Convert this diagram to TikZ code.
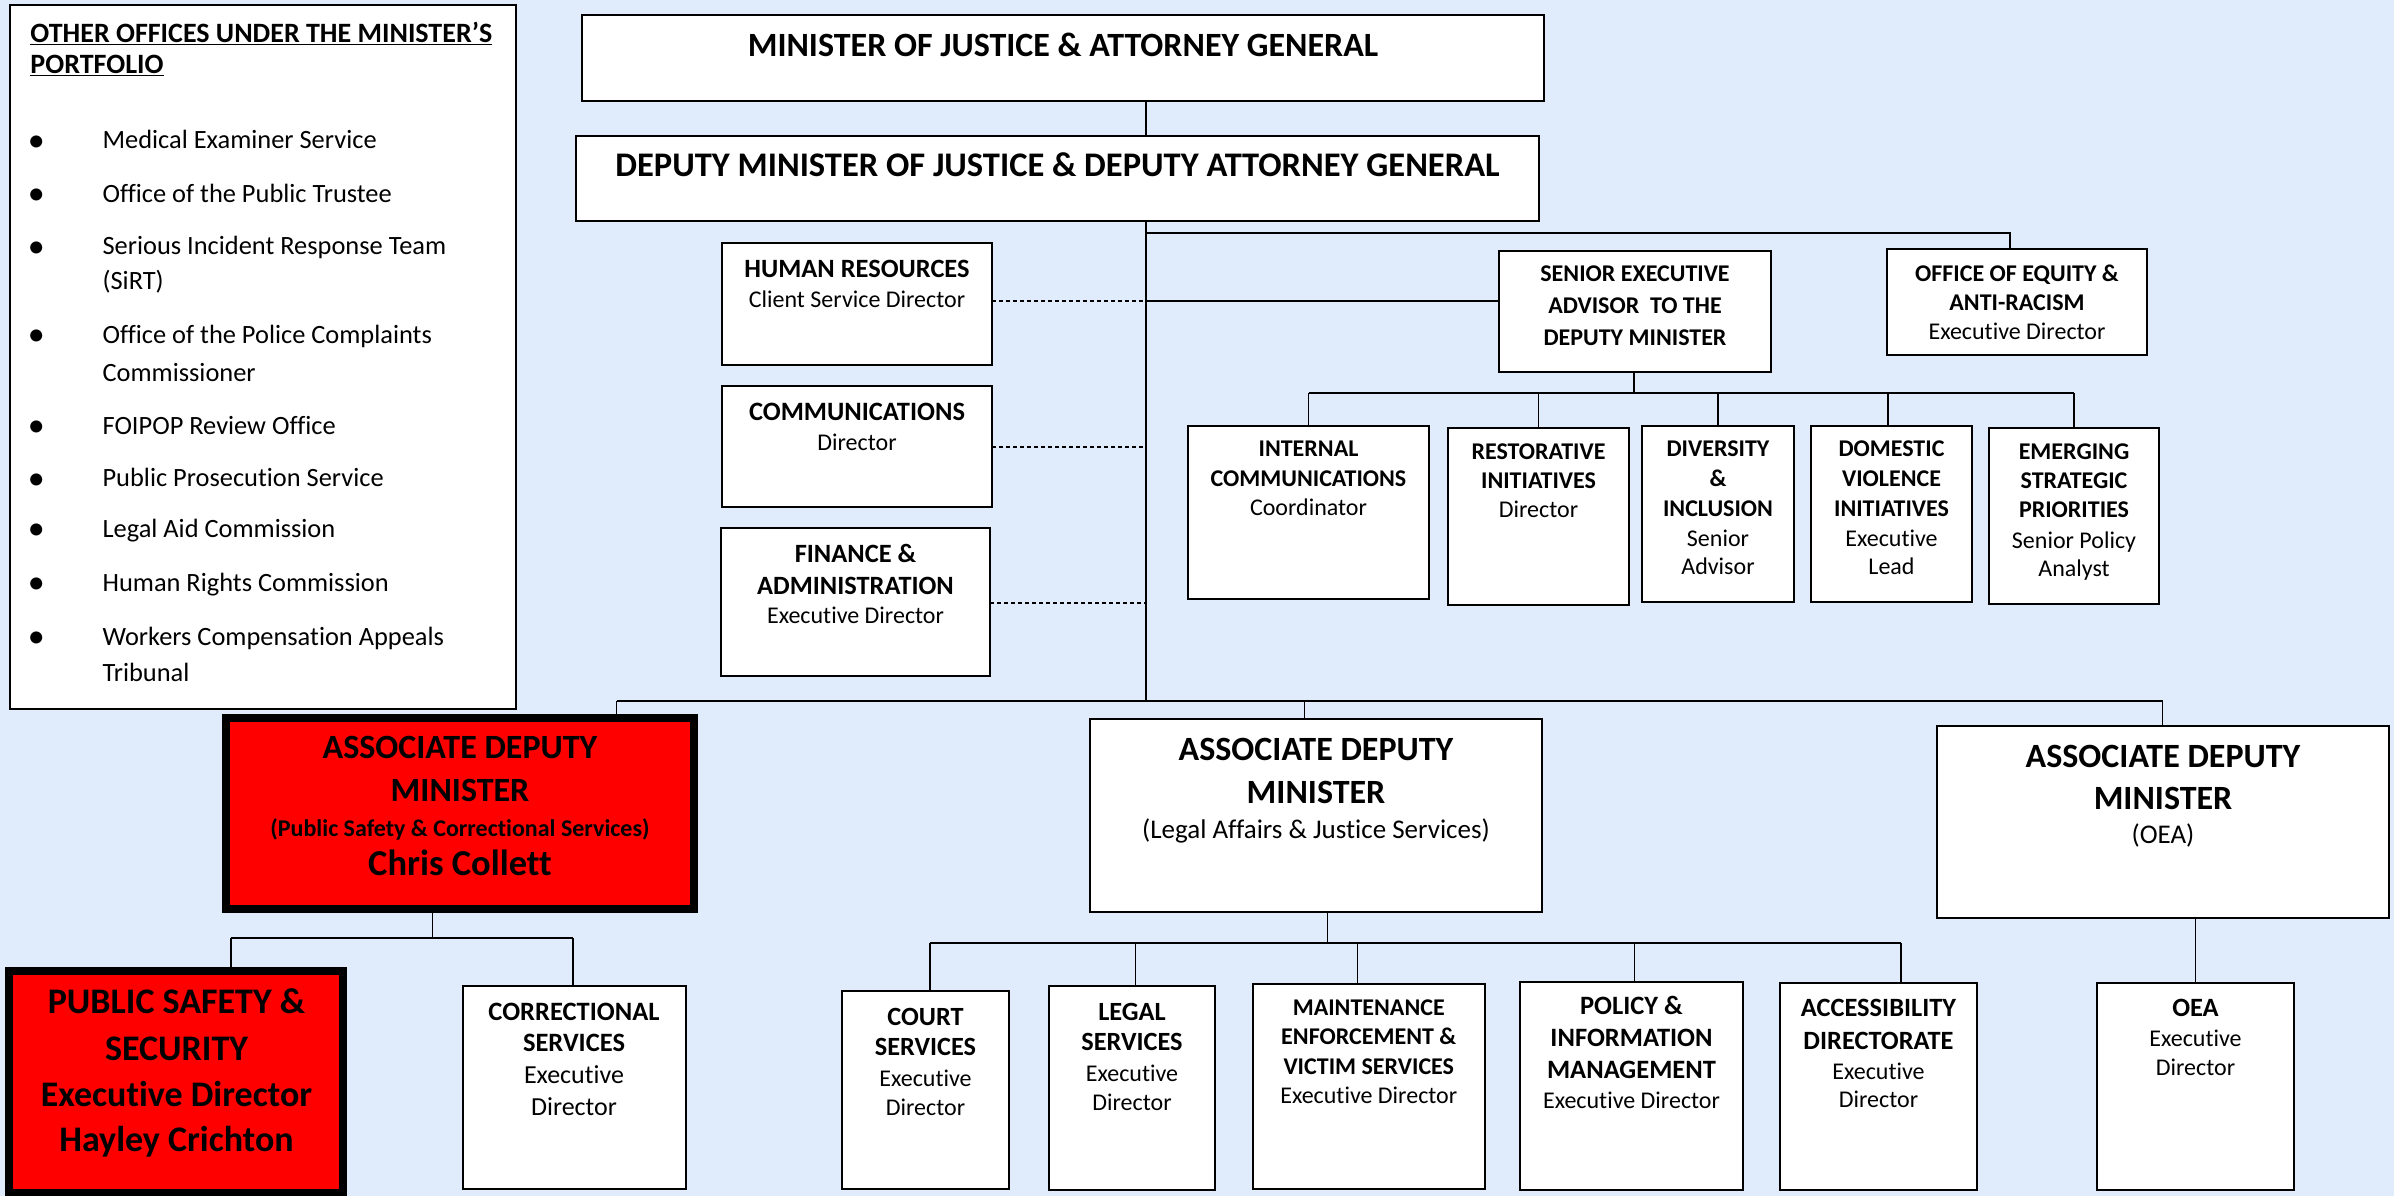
\documentclass[tikz,border=0pt]{standalone}
\usepackage{fontspec}
\setmainfont{Carlito}[Ligatures={NoCommon,NoContextual}]
\usetikzlibrary{calc}
\definecolor{bgblue}{RGB}{224,235,251}
\newcounter{tn}
\newcommand\fs[1]{\fontsize{#1}{#1}\selectfont}
\newcommand\tline[4][]{\stepcounter{tn}\node[anchor=base,inner sep=0pt,outer sep=0pt,#1] (tx\arabic{tn}) at (#2,#3) {#4};}
\newcommand\bx[6][box]{\node[#1,minimum width={(#5-#3)*1pt},minimum height={(#6-#4)*1pt}] (#2) at ({(#3+#5)/2},{(#4+#6)/2}) {};}
\tikzset{
  box/.style={rectangle,draw=black,line width=2pt,fill=white,inner sep=0pt,outer sep=0pt},
  redbox/.style={rectangle,draw=black,line width=7.5pt,fill=red,inner sep=0pt,outer sep=0pt},
  conn/.style={draw=black,line width=1.4pt},
  dsh/.style={draw=black,line width=1.4pt,dash pattern=on 4pt off 3pt},
  bf/.style={font={\fs{#1}\bfseries}},
  rg/.style={font={\fs{#1}}},
}
\begin{document}
\begin{tikzpicture}[x=1pt,y=-1pt]
\useasboundingbox (0,0) rectangle (2394,1196);
\fill[bgblue] (0,0) rectangle (2394,1196);

% ---------- boxes ----------
\bx{left}{10}{5}{516}{709}
\bx{min}{582}{15}{1544}{101}
\bx{dep}{576}{136}{1539}{221}
\bx{hr}{722}{243}{992}{365}
\bx{comm}{722}{386}{992}{507}
\bx{fin}{721}{528}{990}{676}
\bx{sea}{1499}{251}{1771}{372}
\bx{oear}{1887}{249}{2147}{355}
\bx{ic}{1188}{426}{1429}{599}
\bx{rest}{1448}{428}{1629}{605}
\bx{div}{1642}{426}{1794}{602}
\bx{dom}{1811}{426}{1972}{602}
\bx{emg}{1989}{428}{2159}{604}
\bx[redbox]{adm1}{226}{718}{694}{909}
\bx{adm2}{1090}{719}{1542}{912}
\bx{adm3}{1937}{726}{2389}{918}
\bx[redbox]{pss}{9}{971}{343}{1193}
\bx{corr}{463}{986}{685.5}{1189}
\bx{court}{842}{991}{1009}{1189}
\bx{legal}{1049}{986}{1215}{1190}
\bx{maint}{1253}{984}{1484.5}{1189}
\bx{policy}{1520}{982}{1743}{1190}
\bx{access}{1780}{983}{1977}{1190}
\bx{oea}{2097}{983}{2294}{1190}

% ---------- connectors ----------
\coordinate (mb) at (1146,701);
\coordinate (mt) at (1146,233);
\coordinate (oej) at (2010,233);
\coordinate (hrj) at (1146,301);
\coordinate (cj) at (1146,447);
\coordinate (fj) at (1146,603);
\draw[conn] (min.south -| mb) -- (dep.north -| mb);
\draw[conn] (dep.south -| mb) -- (mb);
\draw[conn] (mt) -- (oej) -- (oej |- oear.north);
\draw[dsh] (hr.east |- hrj) -- (hrj);
\draw[conn] (hrj) -- (sea.west |- hrj);
\draw[dsh] (comm.east |- cj) -- (cj);
\draw[dsh] (fin.east |- fj) -- (fj);

\coordinate (sb) at (1634,393);
\draw[conn] (sea.south -| sb) -- (sb);
\draw[conn] (ic.north |- sb) -- (emg.north |- sb);
\foreach \n/\x in {ic/1308.5,rest/1538.5,div/1718,dom/1888,emg/2074}{
  \coordinate (s\n) at (\x,393);
  \draw[conn] (s\n) -- (s\n |- \n.north);
}

\coordinate (a1) at (616.6,701);
\coordinate (a2) at (1304.7,701);
\coordinate (a3) at (2162.7,701);
\draw[conn] (a1) -- (a3);
\draw[conn] (a1) -- (a1 |- adm1.north);
\draw[conn] (a2) -- (a2 |- adm2.north);
\draw[conn] (a3) -- (a3 |- adm3.north);

\coordinate (p1) at (432.5,938);
\coordinate (p0) at (231,938);
\coordinate (p2) at (573,938);
\draw[conn] (adm1.south -| p1) -- (p1);
\draw[conn] (p0) -- (p2);
\draw[conn] (p0) -- (p0 |- pss.north);
\draw[conn] (p2) -- (p2 |- corr.north);

\coordinate (q1) at (1327.6,943);
\draw[conn] (adm2.south -| q1) -- (q1);
\draw[conn] (930,943) coordinate (q0) -- (1901,943) coordinate (q5);
\foreach \n/\x in {court/930,legal/1135.7,maint/1357.6,policy/1634.4,access/1901}{
  \coordinate (d\n) at (\x,943);
  \draw[conn] (d\n) -- (d\n |- \n.north);
}
\draw[conn] (adm3.south -| oea.north) -- (oea.north);

% redraw thick boxes borders on top of connectors
\bx[redbox]{adm1b}{226}{718}{694}{909}
\bx[redbox]{pssb}{9}{971}{343}{1193}

% ---------- left panel ----------
\tline[bf=28,anchor=base west]{30.5}{42.7}{\underline{OTHER OFFICES UNDER THE MINISTER’S}}
\tline[bf=28,anchor=base west]{30.5}{73.5}{\underline{PORTFOLIO}}
\foreach \y in {149,202,254.8,343.4,434,486.7,537,591,645}{
  \tline[rg=34]{36.4}{\y+2.5}{•}
}
\tline[rg=26.4,anchor=base west]{102.6}{149}{Medical Examiner Service}
\tline[rg=26.4,anchor=base west]{102.6}{202}{Office of the Public Trustee}
\tline[rg=26.4,anchor=base west]{102.6}{254.8}{Serious Incident Response Team}
\tline[rg=26.4,anchor=base west]{102.6}{289}{(SiRT)}
\tline[rg=26.4,anchor=base west]{102.6}{343.4}{Office of the Police Complaints}
\tline[rg=26.4,anchor=base west]{102.6}{381}{Commissioner}
\tline[rg=26.4,anchor=base west]{102.6}{434}{FOIPOP Review Office}
\tline[rg=26.4,anchor=base west]{102.6}{486.7}{Public Prosecution Service}
\tline[rg=26.4,anchor=base west]{102.6}{537}{Legal Aid Commission}
\tline[rg=26.4,anchor=base west]{102.6}{591}{Human Rights Commission}
\tline[rg=26.4,anchor=base west]{102.6}{645}{Workers Compensation Appeals}
\tline[rg=26.4,anchor=base west]{102.6}{681}{Tribunal}

% ---------- top ----------
\tline[bf=34]{1063}{56.7}{MINISTER OF JUSTICE \& ATTORNEY GENERAL}
\tline[bf=34.5]{1057.5}{176.7}{DEPUTY MINISTER OF JUSTICE \& DEPUTY ATTORNEY GENERAL}

\tline[bf=26.4]{857}{277.3}{HUMAN RESOURCES}
\tline[rg=24]{857}{307.3}{Client Service Director}
\tline[bf=26.5]{857}{420}{COMMUNICATIONS}
\tline[rg=24]{857}{450}{Director}
\tline[bf=26.4]{855.5}{562.3}{FINANCE \&}
\tline[bf=26.4]{855.5}{594}{ADMINISTRATION}
\tline[rg=24]{855.5}{623.3}{Executive Director}

\tline[bf=24]{1635}{281.7}{SENIOR EXECUTIVE}
\tline[bf=24]{1635}{313.3}{ADVISOR\ \ TO THE}
\tline[bf=24]{1635}{345}{DEPUTY MINISTER}
\tline[bf=24]{2017}{281.7}{OFFICE OF EQUITY \&}
\tline[bf=24]{2017}{310.7}{ANTI-RACISM}
\tline[rg=24]{2017}{339.3}{Executive Director}

\tline[bf=24]{1308.5}{456.7}{INTERNAL}
\tline[bf=24]{1308.5}{486.7}{COMMUNICATIONS}
\tline[rg=24]{1308.5}{515}{Coordinator}
\tline[bf=24]{1538.5}{459}{RESTORATIVE}
\tline[bf=24]{1538.5}{488.3}{INITIATIVES}
\tline[rg=24]{1538.5}{517.3}{Director}
\tline[bf=24]{1718}{456.7}{DIVERSITY}
\tline[bf=24]{1718}{486.7}{\&}
\tline[bf=24]{1718}{516}{INCLUSION}
\tline[rg=24]{1718}{546}{Senior}
\tline[rg=24]{1718}{574}{Advisor}
\tline[bf=24]{1891.5}{456.7}{DOMESTIC}
\tline[bf=24]{1891.5}{486.7}{VIOLENCE}
\tline[bf=24]{1891.5}{516}{INITIATIVES}
\tline[rg=24]{1891.5}{546}{Executive}
\tline[rg=24]{1891.5}{574}{Lead}
\tline[bf=24]{2074}{459}{EMERGING}
\tline[bf=24]{2074}{488.3}{STRATEGIC}
\tline[bf=24]{2074}{517.3}{PRIORITIES}
\tline[rg=24]{2074}{548.3}{Senior Policy}
\tline[rg=24]{2074}{576}{Analyst}

% ---------- associate deputy ministers ----------
\tline[bf=34]{460}{758.3}{ASSOCIATE DEPUTY}
\tline[bf=34]{460}{801.7}{MINISTER}
\tline[bf=24]{460}{836.7}{(Public Safety \& Correctional Services)}
\tline[bf=36.5]{460}{875}{Chris Collett}
\tline[bf=34]{1316}{760}{ASSOCIATE DEPUTY}
\tline[bf=34]{1316}{803.3}{MINISTER}
\tline[rg=27]{1316}{838.3}{(Legal Affairs \& Justice Services)}
\tline[bf=34]{2163}{767.3}{ASSOCIATE DEPUTY}
\tline[bf=34]{2163}{809.3}{MINISTER}
\tline[rg=27]{2163}{843.3}{(OEA)}

% ---------- bottom row ----------
\tline[bf=36]{176.5}{1013.3}{PUBLIC SAFETY \&}
\tline[bf=36]{176.5}{1060}{SECURITY}
\tline[bf=36]{176.5}{1106}{Executive Director}
\tline[bf=36]{176.5}{1151.7}{Hayley Crichton}
\tline[bf=26.5]{574}{1020}{CORRECTIONAL}
\tline[bf=26.5]{574}{1051.7}{SERVICES}
\tline[rg=26]{574}{1083.3}{Executive}
\tline[rg=26]{574}{1115}{Director}
\tline[bf=26.3]{925.5}{1025}{COURT}
\tline[bf=26.3]{925.5}{1055.7}{SERVICES}
\tline[rg=24]{925.5}{1086}{Executive}
\tline[rg=24]{925.5}{1115}{Director}
\tline[bf=26.3]{1132}{1020}{LEGAL}
\tline[bf=26.3]{1132}{1050.7}{SERVICES}
\tline[rg=24]{1132}{1081.7}{Executive}
\tline[rg=24]{1132}{1110.7}{Director}
\tline[bf=24]{1368.75}{1015.7}{MAINTENANCE}
\tline[bf=24]{1368.75}{1044.3}{ENFORCEMENT \&}
\tline[bf=24]{1368.75}{1074.3}{VICTIM SERVICES}
\tline[rg=24]{1368.75}{1103.3}{Executive Director}
\tline[bf=26.5]{1631.5}{1014}{POLICY \&}
\tline[bf=26.5]{1631.5}{1046}{INFORMATION}
\tline[bf=26.5]{1631.5}{1078.3}{MANAGEMENT}
\tline[rg=24]{1631.5}{1108.3}{Executive Director}
\tline[bf=26.4]{1878.5}{1016.7}{ACCESSIBILITY}
\tline[bf=26.4]{1878.5}{1049.3}{DIRECTORATE}
\tline[rg=24]{1878.5}{1079.3}{Executive}
\tline[rg=24]{1878.5}{1107.7}{Director}
\tline[bf=26.4]{2195.5}{1016.7}{OEA}
\tline[rg=24]{2195.5}{1046}{Executive}
\tline[rg=24]{2195.5}{1075}{Director}
\end{tikzpicture}
\end{document}
